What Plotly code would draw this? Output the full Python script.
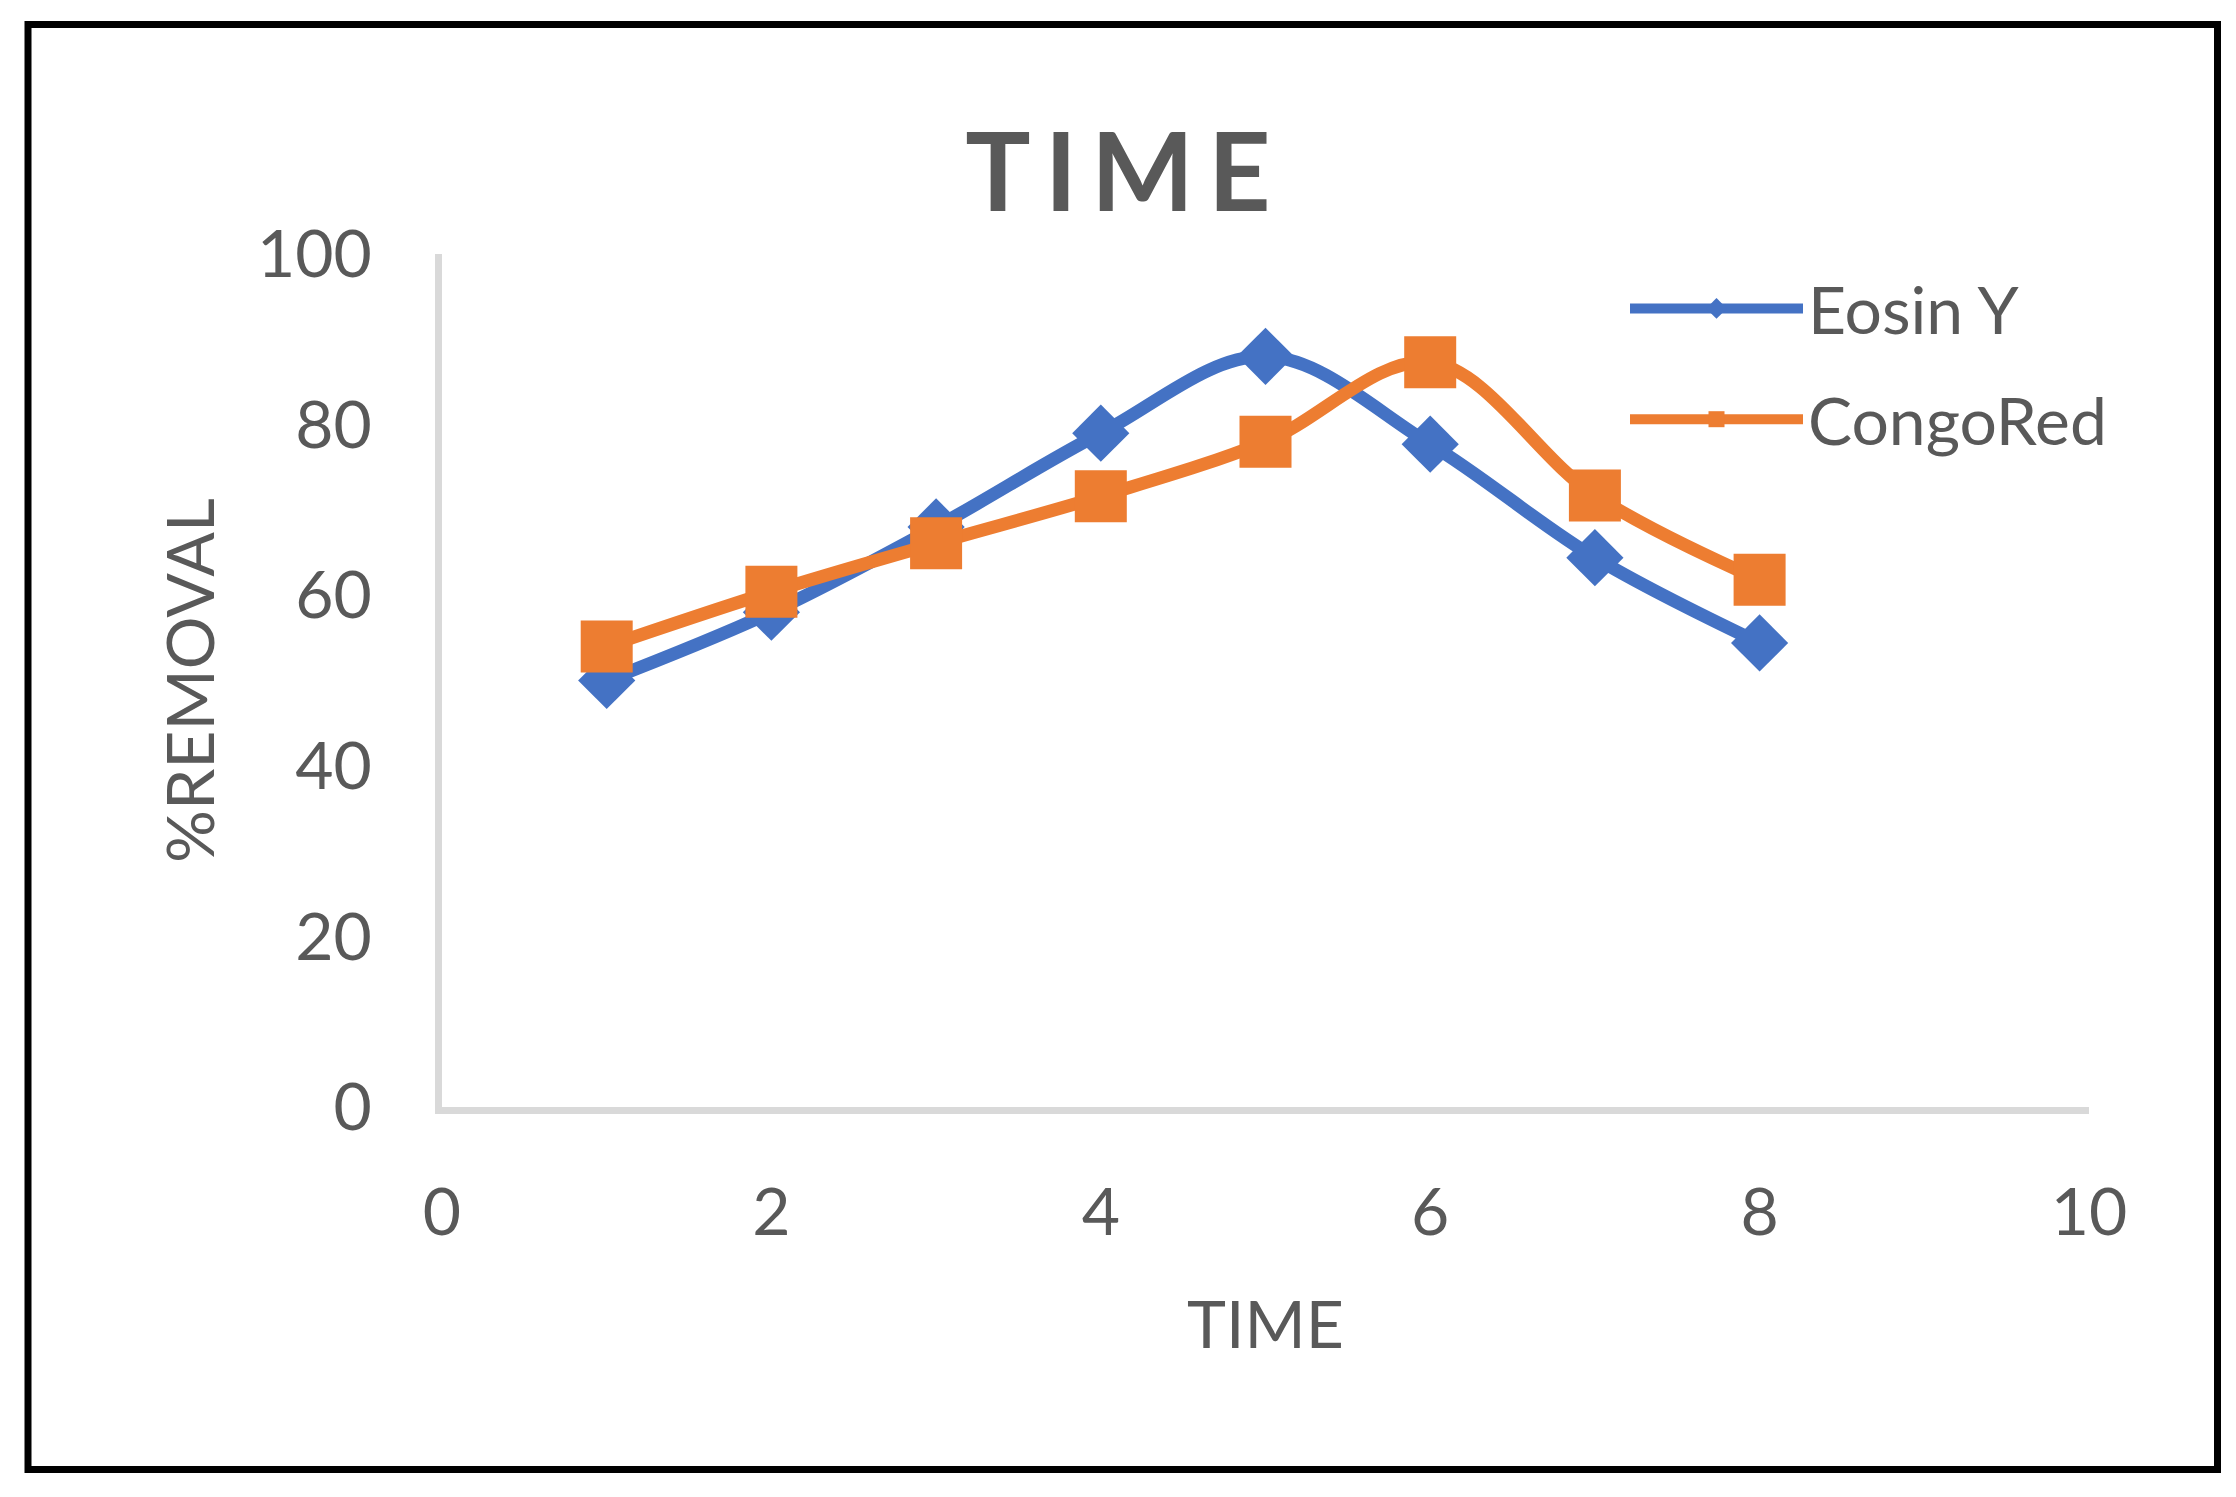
import plotly.graph_objects as go

# ---- data ----
time = [1, 2, 3, 4, 5, 6, 7, 8]
eosin_y = [50, 58, 68, 79, 88, 77.7, 64.4, 54.4]
congo_red = [54, 60.4, 66.1, 71.6, 78, 87.3, 71.7, 61.8]
series_names = ["Eosin Y", "CongoRed"]
x_ticks = [0, 2, 4, 6, 8, 10]
y_ticks = [0, 20, 40, 60, 80, 100]

W, H = 2236, 1497
L, R, T, B = 442, 147, 254, 390
PW, PH = W - L - R, H - T - B

FONT = "Lato"
GREY = "#595959"

fig = go.Figure()
styles = [
    dict(color="#4472C4", symbol="diamond", size=44),
    dict(color="#ED7D31", symbol="square", size=52),
]
for name, vals, st in zip(series_names, [eosin_y, congo_red], styles):
    fig.add_trace(go.Scatter(
        x=time, y=vals, name=name, mode="lines+markers",
        legendgroup=name,
        line=dict(color=st["color"], width=13, shape="spline", smoothing=1),
        marker=dict(symbol=st["symbol"], size=st["size"], color=st["color"],
                    line=dict(width=0)),
    ))

def px_to_paper_x(px):
    return (px - L) / PW

def px_to_paper_y(py):
    return (H - B - py) / PH

SPACING = 14
fig.update_layout(
    width=W, height=H, autosize=False,
    margin=dict(l=L, r=R, t=T, b=B, pad=0),
    paper_bgcolor="white", plot_bgcolor="white",
    font=dict(family=FONT, color=GREY, size=66),
    title=dict(text=f'<span style="letter-spacing:{SPACING}px">TIME</span>',
               x=0.5 + (SPACING / 2) / W, xref="container", xanchor="center",
               y=1 - 173 / H, yref="container", yanchor="middle",
               font=dict(family=FONT, size=109, color=GREY, weight="bold")),
    xaxis=dict(range=[0, 10], tickvals=x_ticks, showline=True,
               linecolor="#D9D9D9", linewidth=7, showgrid=False, zeroline=False,
               ticks="", ticklabelstandoff=42,
               tickfont=dict(family=FONT, size=66, color=GREY),
               title=dict(text="TIME", standoff=56,
                          font=dict(family=FONT, size=66, color=GREY))),
    yaxis=dict(range=[0, 100], tickvals=y_ticks, showline=True,
               linecolor="#D9D9D9", linewidth=7, showgrid=False, zeroline=False,
               ticks="", ticklabelstandoff=50,
               tickfont=dict(family=FONT, size=66, color=GREY),
               title=dict(text="%REMOVAL", standoff=23,
                          font=dict(family=FONT, size=66, color=GREY))),
    legend=dict(x=px_to_paper_x(1625), y=px_to_paper_y(259),
                xanchor="left", yanchor="top", bgcolor="rgba(0,0,0,0)",
                font=dict(family=FONT, size=66, color=GREY),
                tracegroupgap=22, itemwidth=173),
    showlegend=True,
)

# outer black frame of the chart
fig.add_shape(type="rect", xref="paper", yref="paper",
              x0=px_to_paper_x(28), x1=px_to_paper_x(2217.5),
              y0=px_to_paper_y(1469.5), y1=px_to_paper_y(24.5),
              line=dict(color="black", width=7), fillcolor="rgba(0,0,0,0)",
              layer="above")

fig.write_html("out.html", config={"displayModeBar": False},
               post_script="document.body.style.margin='0px';")
